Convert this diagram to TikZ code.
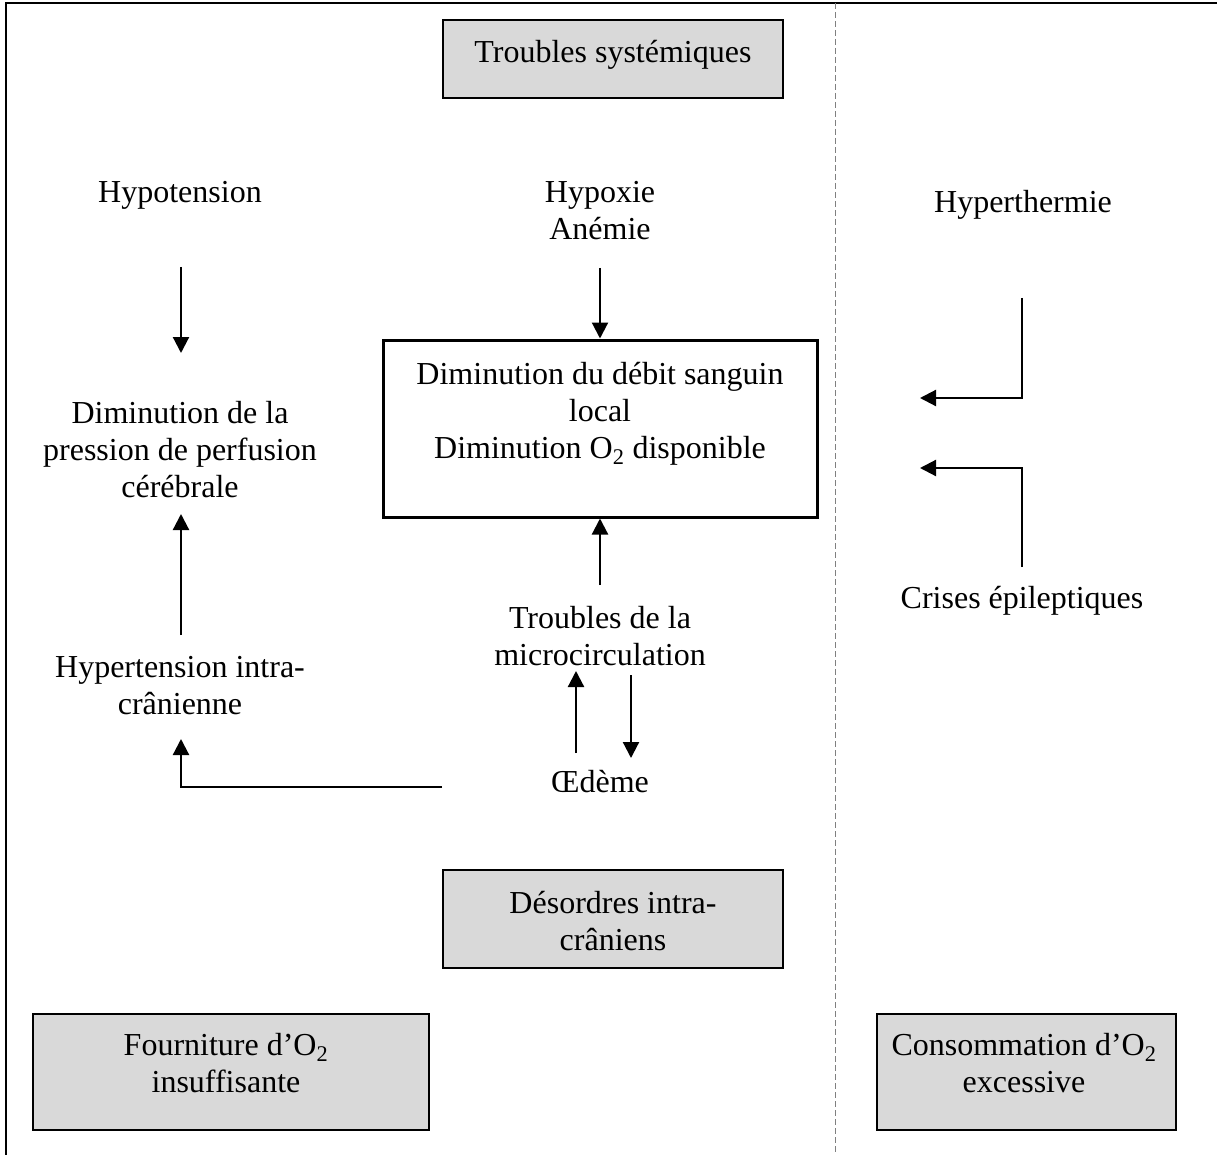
\documentclass[tikz,border=0pt]{standalone}
\usepackage{fontspec}
\setmainfont{Liberation Serif}
\usetikzlibrary{arrows.meta}
\definecolor{boxgray}{HTML}{D9D9D9}
\tikzset{
  txt/.style={align=center, inner sep=0pt, font=\fontsize{32}{37}\selectfont},
  graybox/.style={draw, line width=2.6pt, fill=boxgray, inner sep=0pt},
  mainbox/.style={draw, line width=3pt, fill=white, inner sep=0pt, minimum width=434pt, minimum height=177pt},
  arr/.style={line width=2.2pt, -{Triangle[length=16pt,width=16pt]}},
  frame/.style={line width=2.4pt},
  sep/.style={draw=gray, line width=1pt, dash pattern=on 6pt off 3pt}
}
\begin{document}
\begin{tikzpicture}[x=1pt,y=-1pt]
\useasboundingbox (0,0) rectangle (1217,1155);
% frame and separator
\draw[frame] (6,1155) -- (6,3) -- (1217,3);
\draw[sep] (835,3) -- (835,1155);

% gray boxes
\node[graybox, minimum width=340pt, minimum height=78pt] (tsbox) at (613,59) {};
\node[txt] (ts) at (613,55) {Troubles systémiques};
\node[graybox, minimum width=340pt, minimum height=98pt] (dibox) at (613,919) {};
\node[txt] (di) at (613,921) {Désordres intra-\\crâniens};
\node[graybox, minimum width=396pt, minimum height=116pt] (fobox) at (231,1072) {};
\node[txt] (fo) at (226,1063) {Fourniture d’O\textsubscript{2}\\insuffisante};
\node[graybox, minimum width=299pt, minimum height=116pt] (cobox) at (1026.5,1072) {};
\node[txt] (co) at (1024,1063) {Consommation d’O\textsubscript{2}\\excessive};

% text nodes
\node[txt] (hypo) at (180,195) {Hypotension};
\node[txt] (hypox) at (600,211) {Hypoxie\\Anémie};
\node[txt] (hyper) at (1023,205) {Hyperthermie};
\node[txt] (dimp) at (180,450) {Diminution de la\\pression de perfusion\\cérébrale};
\node[mainbox] (main) at (600,428.5) {};
\node[txt] (maintxt) at (600,414) {Diminution du débit sanguin\\local\\Diminution O\textsubscript{2} disponible};
\node[txt] (micro) at (600,636) {Troubles de la\\microcirculation};
\node[txt] (htic) at (180,686) {Hypertension intra-\\crânienne};
\node[txt] (oed) at (600,782) {Œdème};
\node[txt] (crises) at (1022,601) {Crises épileptiques};

% arrow end points
\coordinate (a1s) at (181,267);
\coordinate (a1e) at (181,353);
\coordinate (a2s) at (600,268);
\coordinate (a3s) at (181,635);
\coordinate (a3e) at (181,514);
\coordinate (a4s) at (600,585);
\coordinate (a5s) at (576,753);
\coordinate (a5e) at (576,671);
\coordinate (a6s) at (631,675);
\coordinate (a6e) at (631,758);
\coordinate (a7s) at (442,787);
\coordinate (a7e) at (181,739);
\coordinate (a8s) at (1022,298);
\coordinate (a8e) at (920,398);
\coordinate (a9s) at (1022,567);
\coordinate (a9e) at (920,468);

% arrows
\draw[arr] (a1s) -- (a1e);
\draw[arr] (a2s) -- (main.north);
\draw[arr] (a3s) -- (a3e);
\draw[arr] (a4s) -- (main.south);
\draw[arr] (a5s) -- (a5e);
\draw[arr] (a6s) -- (a6e);
\draw[arr] (a7s) -| (a7e);
\draw[arr] (a8s) |- (a8e);
\draw[arr] (a9s) |- (a9e);
\end{tikzpicture}
\end{document}
